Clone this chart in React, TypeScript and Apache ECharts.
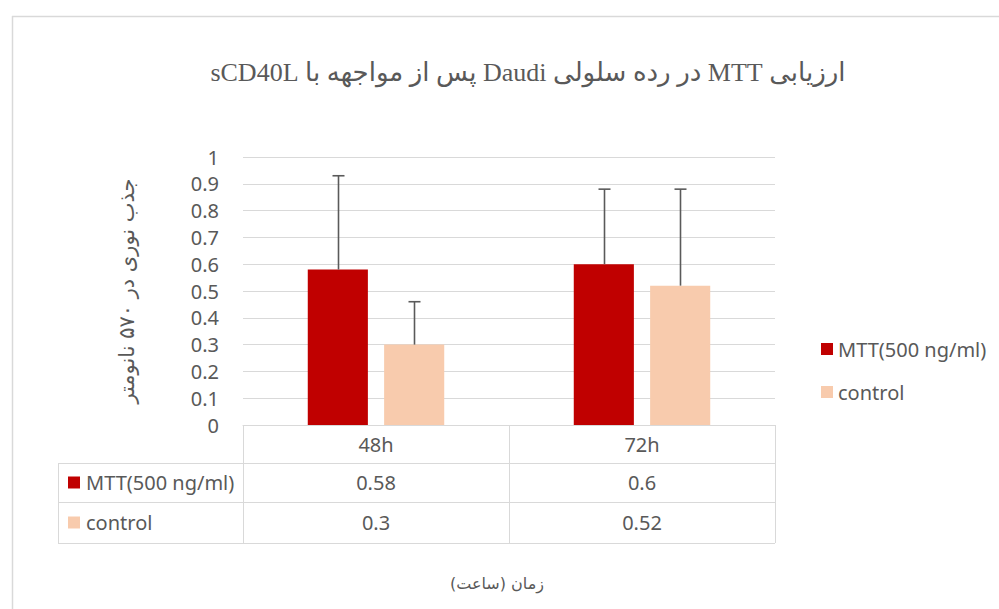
import React, { useEffect, useRef } from "react";
import * as echarts from "echarts";

// ---- data ----
const categories = ["48h", "72h"];
const seriesNames = ["MTT(500 ng/ml)", "control"];
const mttValues = [0.58, 0.6];
const controlValues = [0.3, 0.52];
const mttErrors = [0.35, 0.28];
const controlErrors = [0.16, 0.36];
const yMin = 0;
const yMax = 1;
const yStep = 0.1;
const titleText = "ارزیابی MTT در رده سلولی Daudi پس از مواجهه با sCD40L";
const yAxisTitle = "جذب نوری در ۵۷۰ نانومتر";
const xAxisTitle = "زمان (ساعت)";
const seriesColors = ["#C00000", "#F8CBAD"];

// ---- layout / style ----
const W = 999;
const H = 609;
const PLOT_L = 243;
const PLOT_R = 775;
const PLOT_T = 157;
const AXIS_Y = 425;
const ROW_LINES = [425, 463, 502, 543];
const TABLE_L = 58;
const TEXT = "#595959";
const GRIDC = "#d9d9d9";
const SANS = "'Noto Sans', 'DejaVu Sans', sans-serif";
const FA = "'DejaVu Sans', sans-serif";
const BAR_FRAC = 0.226;
const GAP_FRAC = 0.27;
const rtl = (s: string) => "\u202B" + s + "\u202C";

const valuesBySeries = [mttValues, controlValues];
const errorsBySeries = [mttErrors, controlErrors];

function buildOption() {
  const colW = (PLOT_R - PLOT_L) / categories.length;
  const graphic: any[] = [];
  // outer frame
  graphic.push({ type: "line", shape: { x1: 12, y1: 16.5, x2: W, y2: 16.5 }, style: { stroke: GRIDC, lineWidth: 1.5 }, silent: true });
  graphic.push({ type: "line", shape: { x1: 12.5, y1: 16, x2: 12.5, y2: H }, style: { stroke: GRIDC, lineWidth: 1.5 }, silent: true });
  // title
  graphic.push({
    type: "text",
    x: 528,
    y: 72,
    style: {
      text: rtl(titleText),
      fill: TEXT,
      font: "26px 'Liberation Serif', 'DejaVu Sans', serif",
      textAlign: "center",
      textVerticalAlign: "middle",
    },
  });
  // x axis title
  graphic.push({
    type: "text",
    x: 497,
    y: 583,
    style: {
      text: rtl(xAxisTitle),
      fill: TEXT,
      font: "16px " + FA,
      textAlign: "center",
      textVerticalAlign: "middle",
    },
  });
  // table horizontal lines
  ROW_LINES.forEach((y, i) => {
    graphic.push({
      type: "line",
      shape: { x1: i === 0 ? PLOT_L : TABLE_L, y1: y + 0.5, x2: PLOT_R, y2: y + 0.5 },
      style: { stroke: GRIDC, lineWidth: 1 },
      silent: true,
    });
  });
  // table vertical lines
  for (let k = 0; k <= categories.length; k++) {
    const x = Math.round(PLOT_L + colW * k) + 0.5;
    graphic.push({ type: "line", shape: { x1: x, y1: ROW_LINES[0], x2: x, y2: ROW_LINES[3] }, style: { stroke: GRIDC, lineWidth: 1 }, silent: true });
  }
  graphic.push({ type: "line", shape: { x1: TABLE_L + 0.5, y1: ROW_LINES[1], x2: TABLE_L + 0.5, y2: ROW_LINES[3] }, style: { stroke: GRIDC, lineWidth: 1 }, silent: true });
  // table rows
  seriesNames.forEach((name, s) => {
    const cy = (ROW_LINES[s + 1] + ROW_LINES[s + 2]) / 2;
    graphic.push({ type: "rect", shape: { x: TABLE_L + 10, y: cy - 6, width: 12, height: 12 }, style: { fill: seriesColors[s] } });
    graphic.push({
      type: "text",
      x: TABLE_L + 28,
      y: cy,
      style: { text: name, fill: TEXT, font: "20px " + SANS, textAlign: "left", textVerticalAlign: "middle" },
    });
    valuesBySeries[s].forEach((v, i) => {
      graphic.push({
        type: "text",
        x: PLOT_L + colW * (i + 0.5),
        y: cy,
        style: { text: String(v), fill: TEXT, font: "20px " + SANS, textAlign: "center", textVerticalAlign: "middle" },
      });
    });
  });

  const errorSeries = seriesNames.map((name, s) => ({
    type: "custom",
    name: name + " err",
    z: 5,
    data: categories.map((_, i) => [i, valuesBySeries[s][i], valuesBySeries[s][i] + errorsBySeries[s][i]]),
    renderItem: (params: any, api: any) => {
      const idx = api.value(0);
      const base = api.coord([idx, api.value(1)]);
      const top = api.coord([idx, api.value(2)]);
      const band = api.size([1, 0])[0];
      const barW = band * BAR_FRAC;
      const gap = barW * GAP_FRAC;
      const off = ((barW + gap) / 2) * (s === 0 ? -1 : 1);
      const x = Math.round(base[0] + off) + 0.5;
      const st = { stroke: "#5a5a5a", lineWidth: 1.6 };
      return {
        type: "group",
        children: [
          { type: "line", shape: { x1: x, y1: base[1], x2: x, y2: top[1] }, style: st },
          { type: "line", shape: { x1: x - 6, y1: top[1], x2: x + 6, y2: top[1] }, style: st },
        ],
      };
    },
  }));

  return {
    animation: false,
    backgroundColor: "#ffffff",
    grid: { left: PLOT_L, right: W - PLOT_R, top: PLOT_T, bottom: H - AXIS_Y, containLabel: false },
    legend: {
      data: seriesNames,
      orient: "vertical",
      left: 816,
      top: 333,
      itemWidth: 12,
      itemHeight: 12,
      itemGap: 21,
      icon: "rect",
      textStyle: { color: TEXT, fontSize: 20, fontFamily: SANS, lineHeight: 22 },
    },
    xAxis: {
      type: "category",
      data: categories,
      axisLine: { show: true, lineStyle: { color: GRIDC } },
      axisTick: { show: false },
      axisLabel: { color: TEXT, fontSize: 20, fontFamily: SANS, margin: 9 },
    },
    yAxis: {
      type: "value",
      min: yMin,
      max: yMax,
      interval: yStep,
      name: rtl(yAxisTitle),
      nameLocation: "middle",
      nameGap: 106,
      nameTextStyle: { color: TEXT, fontSize: 21, fontFamily: FA },
      axisLine: { show: false },
      axisTick: { show: false },
      axisLabel: { color: TEXT, fontSize: 20, fontFamily: SANS, margin: 24 },
      splitLine: { show: true, lineStyle: { color: GRIDC, width: 1 } },
    },
    series: [
      ...seriesNames.map((name, s) => ({
        type: "bar",
        name,
        data: valuesBySeries[s],
        barWidth: BAR_FRAC * 100 + "%",
        barGap: GAP_FRAC * 100 + "%",
        itemStyle: { color: seriesColors[s] },
      })),
      ...errorSeries,
    ],
    graphic,
  };
}

export default function App() {
  const ref = useRef<HTMLDivElement>(null);
  useEffect(() => {
    if (!ref.current) return;
    const chart = echarts.init(ref.current, undefined, { renderer: "svg" });
    chart.setOption(buildOption() as any);
    return () => chart.dispose();
  }, []);
  return (
    <div
      ref={ref}
      style={{ position: "absolute", left: 0, top: 0, width: W, height: H, background: "#fff" }}
    />
  );
}
